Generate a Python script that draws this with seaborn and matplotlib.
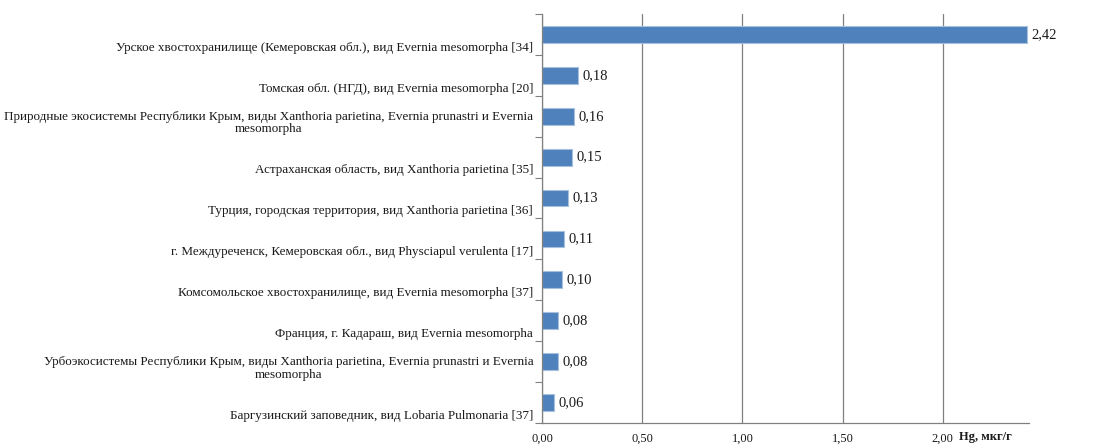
import matplotlib
matplotlib.use("Agg")
import matplotlib.pyplot as plt
import matplotlib.transforms as mtransforms
import seaborn as sns
import numpy as np

categories = [
    "Урское хвостохранилище (Кемеровская обл.), вид Evernia mesomorpha [34]",
    "Томская обл. (НГД), вид Evernia mesomorpha [20]",
    "Природные экосистемы Республики Крым, виды Xanthoria parietina, Evernia prunastri и Evernia\nmesomorpha",
    "Астраханская область, вид Xanthoria parietina [35]",
    "Турция, городская территория, вид Xanthoria parietina [36]",
    "г. Междуреченск, Кемеровская обл., вид Physciapul verulenta [17]",
    "Комсомольское хвостохранилище, вид Evernia mesomorpha [37]",
    "Франция, г. Кадараш, вид Evernia mesomorpha",
    "Урбоэкосистемы Республики Крым, виды Xanthoria parietina, Evernia prunastri и Evernia\nmesomorpha",
    "Баргузинский заповедник, вид Lobaria Pulmonaria [37]",
]
values = [2.42, 0.18, 0.16, 0.15, 0.13, 0.11, 0.10, 0.08, 0.08, 0.06]
xticks = [0.0, 0.5, 1.0, 1.5, 2.0]
xlabel = "Hg, мкг/г"

sns.set_theme(style="white")
plt.rcParams['font.family'] = ['Liberation Serif', 'DejaVu Serif']

fig = plt.figure(figsize=(11.15, 4.47), dpi=100)
ax = fig.add_axes([542/1115, 24/447, (1029-542)/1115, (423-14)/447])

sns.barplot(x=values, y=list(range(len(categories))), orient="h", color="#4F81BD",
            width=0.41, edgecolor="#A7C0DE", linewidth=0.8, ax=ax, saturation=1)

ax.set_xlim(0, 2.43)
ax.set_ylim(len(categories) - 0.5, -0.5)
ax.set_xticks(xticks)
ax.set_xticklabels([f"{t:.2f}".replace(".", ",") for t in xticks], fontsize=9, color="#1a1a1a")
ax.tick_params(axis="x", direction="out", length=5, width=0.8, color="#808080", pad=2)
ax.set_yticks(np.arange(-0.5, len(categories), 1.0))
ax.set_yticklabels([])
ax.tick_params(axis="y", direction="out", length=5, width=0.8, color="#808080", left=True)
ax.set_ylabel("")
ax.grid(axis="x", color="#808080", linewidth=0.9)
ax.set_axisbelow(True)
for s in ["top", "right"]:
    ax.spines[s].set_visible(False)
for s in ["left", "bottom"]:
    ax.spines[s].set_color("#808080")
    ax.spines[s].set_linewidth(0.9)

trans = mtransforms.blended_transform_factory(ax.transAxes, ax.transData)
for i, (cat, v) in enumerate(zip(categories, values)):
    ax.text(-0.018, i + 0.47, cat, transform=trans, ha="right", va="bottom",
            multialignment="center", fontsize=9.45, color="#1a1a1a", linespacing=1.05)
    ax.text(v + 0.02, i, f"{v:.2f}".replace(".", ","), ha="left", va="center",
            fontsize=10.5, color="#1a1a1a")

ax.text(2.08, -0.034, xlabel, transform=mtransforms.blended_transform_factory(ax.transData, ax.transAxes),
        ha="left", va="center", fontsize=9, fontweight="bold", color="#1a1a1a")

fig.savefig("out.png", dpi=100, facecolor="white")
